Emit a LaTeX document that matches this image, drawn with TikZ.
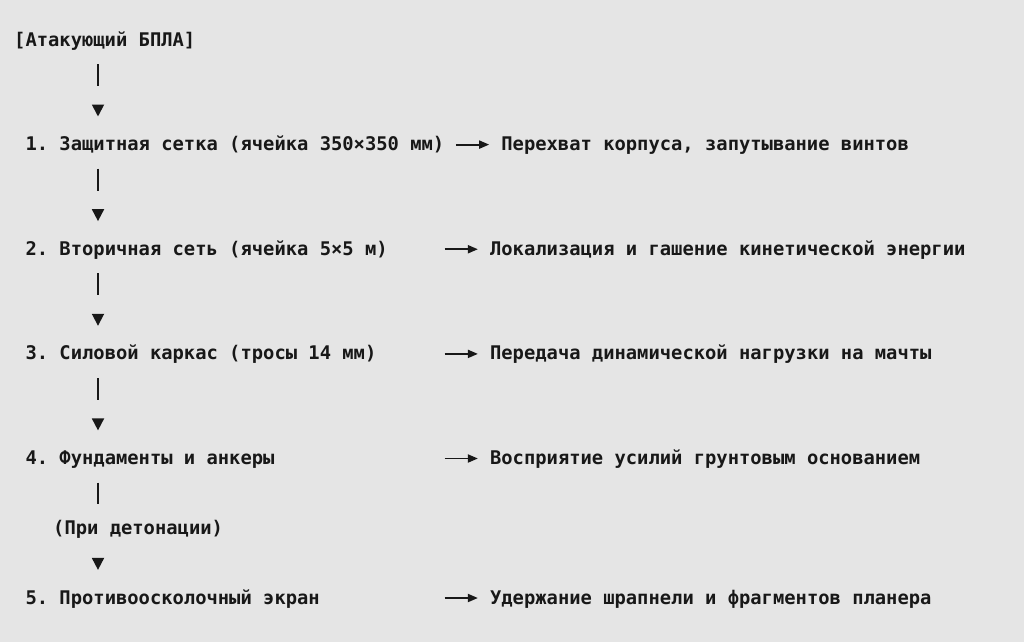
\documentclass[tikz,border=0pt]{standalone}
\usepackage{fontspec}
\setmonofont{DejaVu Sans Mono}
\usetikzlibrary{arrows.meta}
\definecolor{bg}{RGB}{229,229,229}
\definecolor{ink}{RGB}{24,24,24}
\begin{document}
\begin{tikzpicture}[x=1pt,y=-1pt,
  txt/.style={anchor=base west, inner sep=0pt, text height=14pt, text depth=4pt,
    font=\ttfamily\bfseries\fontsize{18.8}{20}\selectfont, text=ink},
  vbar/.style={draw=ink, line width=1.8pt},
  vconn/.style={vbar, -{Triangle[length=12pt,width=12pt]},
    dash pattern=on 22pt off 60pt, shorten <=13.9pt, shorten >=19.9pt},
  vtip/.style={vbar, -{Triangle[length=12pt,width=12pt]},
    dash pattern=on 0pt off 100pt, shorten >=19.9pt},
  harr/.style={draw=ink, line width=1.8pt, -{Triangle[length=10pt,width=8pt]}, shorten >=12pt}
  ]
  \fill[bg] (0,0) rectangle (1024,642);
  \useasboundingbox (0,0) rectangle (1024,642);
  \coordinate (spine) at (98,0);

  \node[txt] (n0) at (14,46) {[Атакующий БПЛА]};

  \node[txt] (n1) at (25.33,150.6) {1. Защитная сетка (ячейка 350×350 мм)};
  \node[txt] (r1) at (501.2,150.6) {Перехват корпуса, запутывание винтов};

  \node[txt] (n2) at (25.33,255.25) {2. Вторичная сеть (ячейка 5×5 м)};
  \node[txt] (r2) at (489.9,255.25) {Локализация и гашение кинетической энергии};

  \node[txt] (n3) at (25.33,359.9) {3. Силовой каркас (тросы 14 мм)};
  \node[txt] (r3) at (489.9,359.9) {Передача динамической нагрузки на мачты};

  \node[txt] (n4) at (25.33,464.5) {4. Фундаменты и анкеры};
  \node[txt] (r4) at (489.9,464.5) {Восприятие усилий грунтовым основанием};

  \node[txt] (lbl) at (53,534.25) {(При детонации)};

  \node[txt] (n5) at (25.33,604) {5. Противоосколочный экран};
  \node[txt] (r5) at (489.9,604) {Удержание шрапнели и фрагментов планера};

  % vertical connectors
  \draw[vconn] (n0.south -| spine) -- (n1.north -| spine);
  \draw[vconn] (n1.south -| spine) -- (n2.north -| spine);
  \draw[vconn] (n2.south -| spine) -- (n3.north -| spine);
  \draw[vconn] (n3.south -| spine) -- (n4.north -| spine);
  \draw[vbar, shorten <=13.9pt, shorten >=16pt] (n4.south -| spine) -- (lbl.north -| spine);
  \draw[vtip] (lbl.south -| spine) -- (n5.north -| spine);

  % horizontal arrows
  \coordinate (a1) at (455.9,144.6);
  \coordinate (a2) at (444.6,249.25);
  \coordinate (a3) at (444.6,353.9);
  \coordinate (a4) at (444.6,458.5);
  \coordinate (a5) at (444.6,598);
  \draw[harr] (a1) -- (a1 -| r1.west);
  \draw[harr] (a2) -- (a2 -| r2.west);
  \draw[harr] (a3) -- (a3 -| r3.west);
  \draw[harr] (a4) -- (a4 -| r4.west);
  \draw[harr] (a5) -- (a5 -| r5.west);
\end{tikzpicture}
\end{document}
